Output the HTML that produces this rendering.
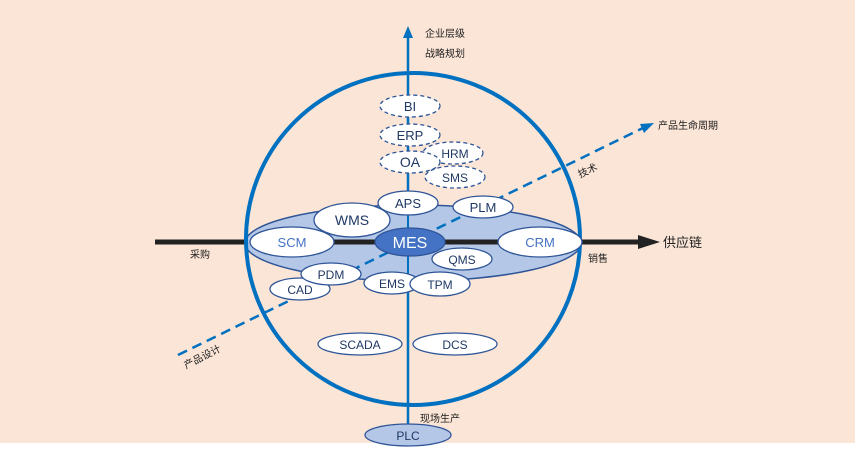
<!DOCTYPE html>
<html><head><meta charset="utf-8"><style>
html,body{margin:0;padding:0;background:#fff;}
svg{display:block;}
text{font-family:"Liberation Sans","Noto Sans CJK SC",sans-serif;}
</style></head><body>
<svg width="867" height="450" viewBox="0 0 867 450" xmlns="http://www.w3.org/2000/svg">
<defs>
<marker id="ab" markerWidth="8" markerHeight="8" refX="7" refY="4" orient="auto" markerUnits="userSpaceOnUse"><path d="M0,0 L8,4 L0,8 z" fill="#0070c0"/></marker>
</defs>
<rect x="0" y="0" width="855" height="443" fill="#fbe5d6"/>
<!-- vertical axis -->
<line x1="408" y1="430" x2="408" y2="36" stroke="#0070c0" stroke-width="2.5"/>
<path d="M403,38 L408,26 L413,38 z" fill="#0070c0"/>
<!-- horizontal axis -->
<line x1="155" y1="242" x2="640" y2="242" stroke="#222" stroke-width="5"/>
<path d="M638,235 L660,242 L638,249 z" fill="#222"/>
<!-- big ellipse -->
<ellipse cx="413" cy="243" rx="168" ry="38" fill="#b4c7e7" stroke="#2f5597" stroke-width="1.5"/>
<line x1="408" y1="205" x2="408" y2="281" stroke="#0070c0" stroke-width="2"/>
<line x1="250" y1="242" x2="578" y2="242" stroke="#222" stroke-width="5"/>
<!-- circle -->
<ellipse cx="413" cy="239" rx="167" ry="166" fill="none" stroke="#0070c0" stroke-width="4"/>
<!-- dashed lifecycle -->
<line x1="178" y1="355" x2="645" y2="127" stroke="#0070c0" stroke-width="2.5" stroke-dasharray="10,6"/>
<path d="M640,124 L654,123 L644,133 z" fill="#0070c0"/>
<g stroke="#2f5597" stroke-width="1.3" fill="#fff" stroke-dasharray="4,3">
<ellipse cx="410" cy="106" rx="30" ry="11"/>
<ellipse cx="410" cy="135" rx="30" ry="11"/>
<ellipse cx="453" cy="153" rx="30" ry="11"/>
<ellipse cx="410" cy="162" rx="30" ry="11"/>
<ellipse cx="455" cy="177" rx="30" ry="11"/>
</g>
<g stroke="#2f5597" stroke-width="1.3" fill="#fff">
<ellipse cx="408" cy="203" rx="30" ry="12"/>
<ellipse cx="483" cy="207" rx="30" ry="11"/>
<ellipse cx="352" cy="220" rx="38" ry="17"/>
<ellipse cx="292" cy="242" rx="42" ry="15"/>
<ellipse cx="540" cy="242" rx="42" ry="15"/>
<ellipse cx="462" cy="259" rx="30" ry="11"/>
<ellipse cx="300" cy="289" rx="30" ry="11"/>
<ellipse cx="331" cy="274" rx="30" ry="11"/>
<ellipse cx="392" cy="283" rx="28" ry="11"/>
<ellipse cx="440" cy="284" rx="30" ry="12"/>
<ellipse cx="360" cy="344" rx="42" ry="11"/>
<ellipse cx="455" cy="344" rx="42" ry="11"/>
<ellipse cx="410" cy="242" rx="35" ry="14" fill="#4472c4"/>
<ellipse cx="408" cy="435" rx="43" ry="11" fill="#b4c7e7"/>
</g>
<g font-size="13" fill="#1f3864" text-anchor="middle">
<text x="410" y="111">BI</text>
<text x="410" y="140">ERP</text>
<text x="455" y="158" font-size="12">HRM</text>
<text x="410" y="167" font-size="14">OA</text>
<text x="455" y="182" font-size="12">SMS</text>
<text x="408" y="208">APS</text>
<text x="483" y="212">PLM</text>
<text x="352" y="225" font-size="14">WMS</text>
<text x="292" y="247" fill="#4472c4">SCM</text>
<text x="540" y="247" fill="#4472c4">CRM</text>
<text x="410" y="248" font-size="16" fill="#fff">MES</text>
<text x="462" y="264" font-size="12">QMS</text>
<text x="331" y="279" font-size="12">PDM</text>
<text x="300" y="294" font-size="12">CAD</text>
<text x="392" y="288" font-size="12">EMS</text>
<text x="440" y="289" font-size="12">TPM</text>
<text x="360" y="349" font-size="12">SCADA</text>
<text x="455" y="349" font-size="12">DCS</text>
<text x="408" y="440" font-size="12">PLC</text>
</g>
<g font-size="10" fill="#222">
<text x="425" y="37">企业层级</text>
<text x="425" y="57">战略规划</text>
<text x="658" y="129">产品生命周期</text>
<text x="580" y="178" transform="rotate(-25 580 178)">技术</text>
<text x="190" y="258">采购</text>
<text x="588" y="262">销售</text>
<text x="663" y="247" font-size="13">供应链</text>
<text x="186" y="369" transform="rotate(-27 186 369)">产品设计</text>
<text x="420" y="422">现场生产</text>
</g>
</svg>
</body></html>
